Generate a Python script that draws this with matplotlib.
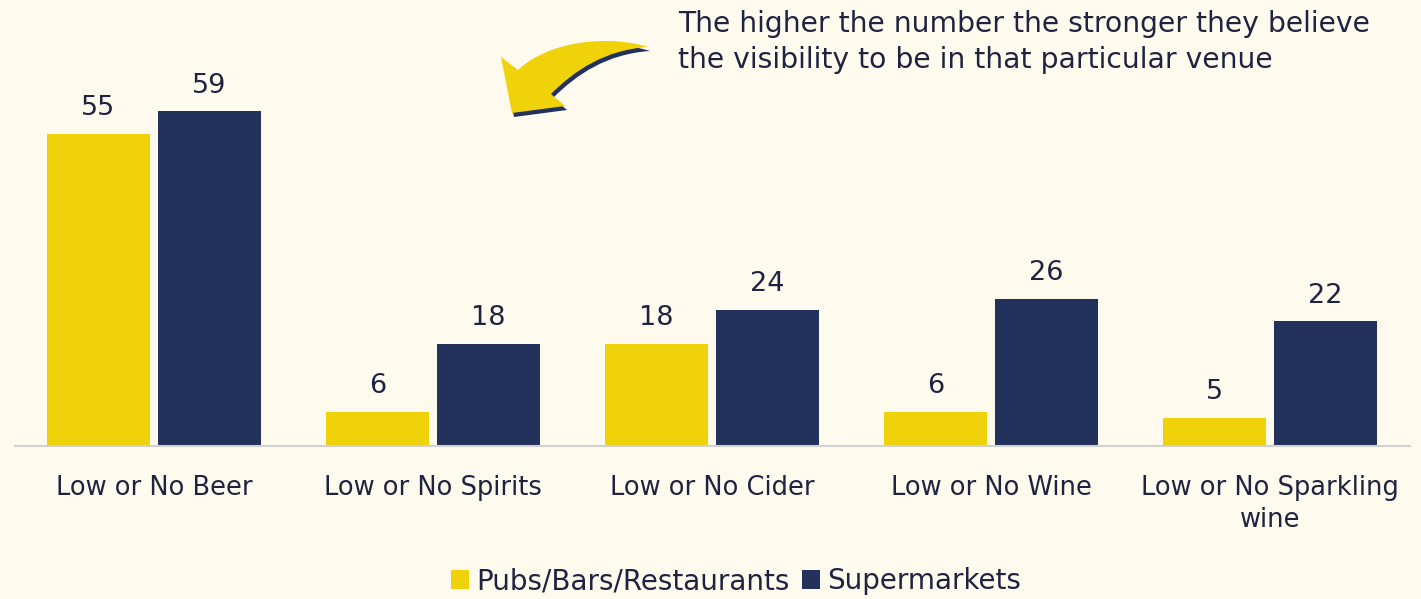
import numpy as np
import matplotlib.pyplot as plt
from matplotlib.path import Path
from matplotlib.patches import PathPatch

categories = ['Low or No Beer', 'Low or No Spirits', 'Low or No Cider',
              'Low or No Wine', 'Low or No Sparkling\nwine']
pubs = [55, 6, 18, 6, 5]
supermarkets = [59, 18, 24, 26, 22]
series_names = ['Pubs/Bars/Restaurants', 'Supermarkets']
note = 'The higher the number the stronger they believe\nthe visibility to be in that particular venue'

BG = '#FEFAEE'
YELLOW = '#F0D20A'
NAVY = '#22325C'
TXT = '#1F2340'
W, H = 1421, 599

fig = plt.figure(figsize=(W / 100, H / 100), dpi=100, facecolor=BG)
ax = fig.add_axes([14.5 / W, 153 / H, 1395 / W, 397 / H])
ax.set_facecolor(BG)

x = np.arange(len(categories))
w = 0.366
off = 0.199
b1 = ax.bar(x - off, pubs, w, color=YELLOW, label=series_names[0])
b2 = ax.bar(x + off, supermarkets, w, color=NAVY, label=series_names[1])

for bars in (b1, b2):
    for r in bars:
        ax.text(r.get_x() + r.get_width() / 2, r.get_height() + 3.3,
                '%d' % r.get_height(), ha='center', va='baseline',
                fontsize=19.5, color=TXT)

ax.set_xlim(-0.5, 4.5)
ax.set_ylim(0, 70)
ax.set_xticks(x)
ax.set_xticklabels(categories, fontsize=18.5, color=TXT, linespacing=1.3)
ax.tick_params(axis='x', length=0, pad=21)
ax.set_yticks([])
for s in ['top', 'right', 'left']:
    ax.spines[s].set_visible(False)
ax.spines['bottom'].set_color('#D0D0D0')
ax.spines['bottom'].set_linewidth(1.5)

leg = fig.legend(handles=[b1, b2], labels=series_names, loc='center',
                 bbox_to_anchor=(0.518, 0.03), ncol=2, frameon=False,
                 fontsize=20, handlelength=0.65, handleheight=0.65,
                 handletextpad=0.25, columnspacing=0.45, borderpad=0)
for t in leg.get_texts():
    t.set_color(TXT)

fig.text(678 / W, 1 - 10 / H, note, fontsize=20.3, color=TXT,
         ha='left', va='top', linespacing=1.35)


# curved arrow (pixel coords from top-left), with navy shadow
def arrow_path(dx, dy):
    pts = [(648, 47), (610, 35), (550, 40), (518, 70),
           (501, 57), (512, 113), (565, 106), (551, 94),
           (575, 70), (605, 50), (648, 47), (648, 47)]
    codes = [Path.MOVETO, Path.CURVE4, Path.CURVE4, Path.CURVE4,
             Path.LINETO, Path.LINETO, Path.LINETO, Path.LINETO,
             Path.CURVE4, Path.CURVE4, Path.CURVE4, Path.CLOSEPOLY]
    verts = [((px + dx) / W, 1 - (py + dy) / H) for px, py in pts]
    return Path(verts, codes)


for dx, dy, col in [(2, 4, NAVY), (0, 0, YELLOW)]:
    fig.patches.append(PathPatch(arrow_path(dx, dy), transform=fig.transFigure,
                                 facecolor=col, edgecolor='none'))

fig.savefig('out.png', dpi=100, facecolor=BG)
